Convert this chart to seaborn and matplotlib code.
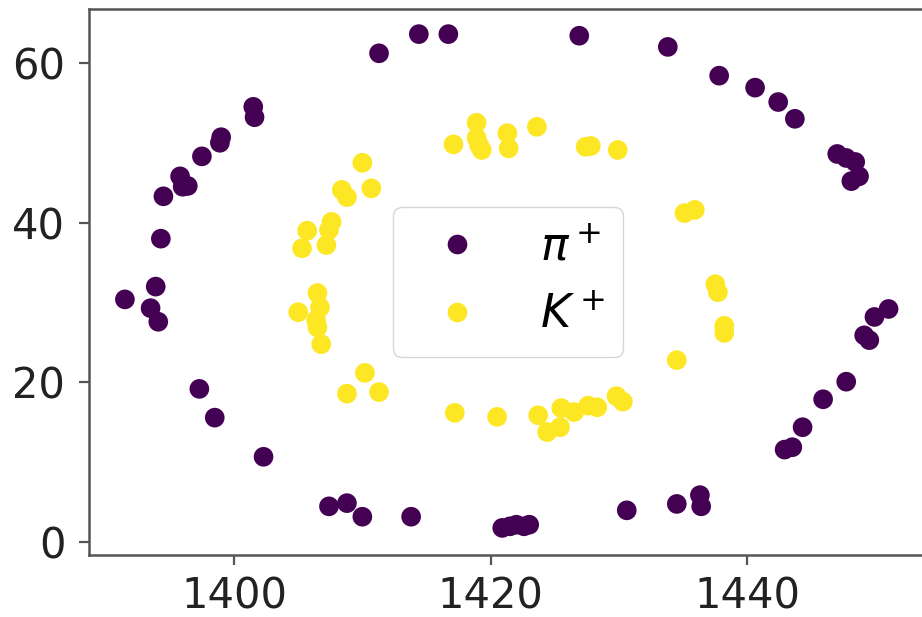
import matplotlib
matplotlib.use("Agg")
import matplotlib.pyplot as plt
import seaborn as sns
import pandas as pd

# pi+ ring (outer)
pi_x = [1391.5, 1393.9, 1393.5, 1394.1, 1397.3, 1398.5, 1402.3, 1401.5, 1401.6, 1399.0,
        1398.9, 1397.5, 1395.8, 1396.0, 1396.4, 1394.5, 1394.3, 1411.3, 1414.4, 1416.7,
        1426.9, 1433.8, 1437.8, 1440.6, 1442.4, 1443.7, 1447.0, 1447.7, 1448.4, 1448.7,
        1448.1, 1451.0, 1449.9, 1449.1, 1449.5, 1447.7, 1445.9, 1444.3, 1443.5, 1442.9,
        1430.6, 1434.5, 1436.3, 1436.4, 1407.4, 1408.8, 1410.0, 1413.8, 1420.9, 1421.5,
        1422.0, 1422.6, 1423.0]
pi_y = [30.4, 32.0, 29.3, 27.6, 19.2, 15.6, 10.7, 54.5, 53.2, 50.7,
        50.0, 48.3, 45.8, 44.5, 44.6, 43.3, 38.0, 61.2, 63.6, 63.6,
        63.4, 62.0, 58.4, 56.9, 55.1, 53.0, 48.6, 48.1, 47.6, 45.8,
        45.2, 29.2, 28.2, 25.9, 25.3, 20.1, 17.9, 14.4, 11.9, 11.6,
        4.0, 4.8, 5.9, 4.5, 4.5, 4.9, 3.2, 3.2, 1.8, 2.0,
        2.2, 2.0, 2.2]

# K+ ring (inner)
k_x = [1417.1, 1418.9, 1418.9, 1419.1, 1419.3, 1421.3, 1421.4, 1423.6, 1427.4, 1427.8,
       1429.9, 1435.1, 1435.9, 1437.5, 1437.7, 1438.2, 1438.2, 1434.5, 1429.8, 1430.3,
       1428.3, 1427.6, 1426.5, 1425.5, 1425.4, 1424.4, 1423.7, 1420.5, 1417.2, 1411.3,
       1408.8, 1410.2, 1406.8, 1406.5, 1406.4, 1405.0, 1406.7, 1406.5, 1405.3, 1405.7,
       1407.2, 1407.4, 1407.6, 1408.4, 1408.8, 1410.7, 1410.0]
k_y = [49.8, 52.5, 50.6, 49.7, 49.1, 51.2, 49.3, 52.0, 49.5, 49.6,
       49.1, 41.2, 41.6, 32.3, 31.3, 27.1, 26.2, 22.8, 18.3, 17.6,
       16.9, 17.1, 16.3, 16.8, 14.4, 13.8, 15.9, 15.7, 16.2, 18.8,
       18.6, 21.2, 24.8, 26.9, 27.8, 28.8, 29.4, 31.2, 36.8, 39.0,
       37.2, 39.1, 40.1, 44.1, 43.2, 44.3, 47.5]

labels = [r"$\pi^+$", r"$K^+$"]
colors = ["#440154", "#fde725"]

df = pd.DataFrame({
    "x": pi_x + k_x,
    "y": pi_y + k_y,
    "particle": [labels[0]] * len(pi_x) + [labels[1]] * len(k_x),
})

plt.rcParams["font.family"] = ["DejaVu Sans"]
plt.rcParams["font.size"] = 30

fig = plt.figure(figsize=(9.22, 6.17), dpi=100)
ax = fig.add_axes([0.0965, 0.1005, 0.909, 0.885])

sns.scatterplot(data=df, x="x", y="y", hue="particle", hue_order=labels,
                palette=colors, s=200, linewidth=0, ax=ax, legend=True)

ax.set_xlim(1388.7, 1454.0)
ax.set_ylim(-1.59, 66.75)
ax.set_xticks([1400, 1420, 1440])
ax.set_yticks([0, 20, 40, 60])
ax.set_xlabel("")
ax.set_ylabel("")

for sp in ax.spines.values():
    sp.set_color("#555555")
    sp.set_linewidth(1.8)
ax.tick_params(axis="both", length=7, width=1.6, color="#555555",
               labelsize=30, labelcolor="#222222")
ax.tick_params(axis="x", pad=8)
ax.tick_params(axis="y", pad=10)

leg = ax.legend(loc="center", fontsize=33, markerscale=1.0, title=None)
leg.get_frame().set_edgecolor("#cccccc")

fig.savefig("out.png", dpi=100)
